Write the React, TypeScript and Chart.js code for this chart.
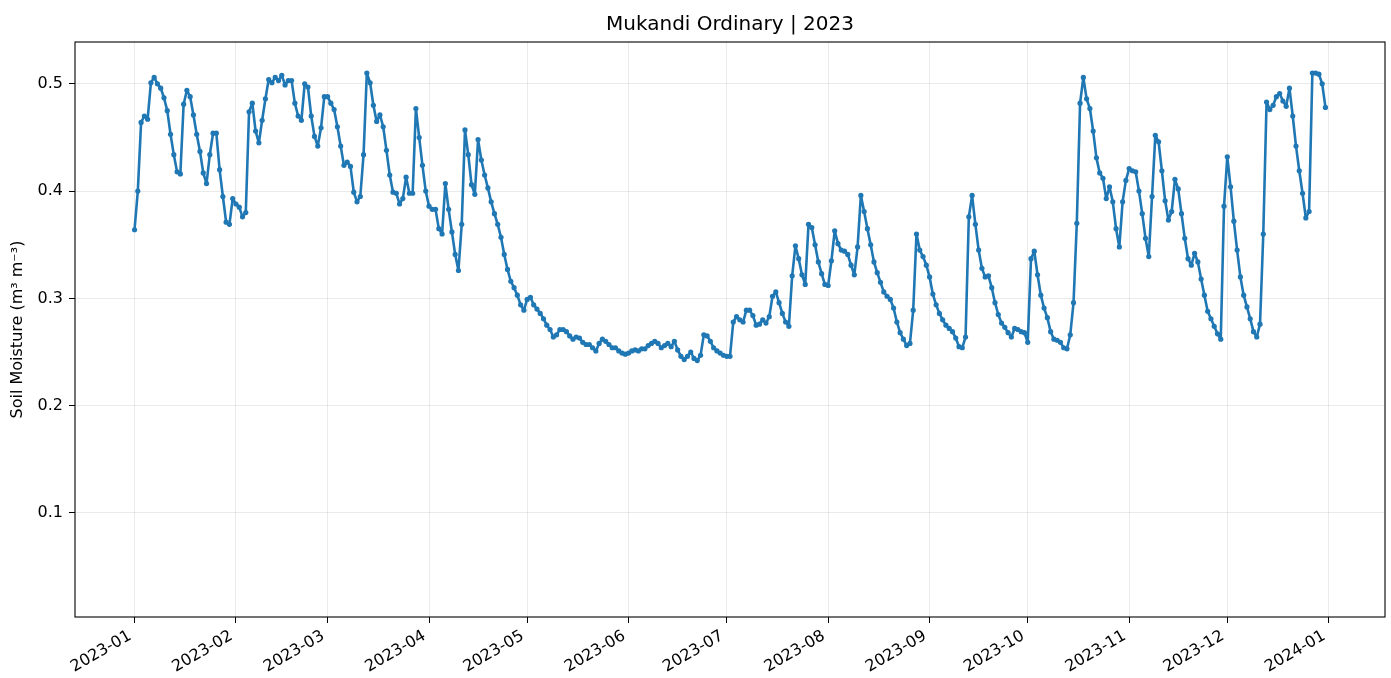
import { useEffect, useRef } from "react";
import { Chart, registerables } from "chart.js";

Chart.register(...registerables);

// Daily soil moisture (m³ m⁻³), one array per month of 2023
const jan = [0.364, 0.400, 0.464, 0.470, 0.467, 0.501, 0.506, 0.500, 0.496, 0.487, 0.475, 0.453, 0.434, 0.418, 0.416, 0.481, 0.494, 0.488, 0.471, 0.453, 0.437, 0.417, 0.407, 0.434, 0.454, 0.454, 0.420, 0.395, 0.371, 0.369, 0.393];
const feb = [0.388, 0.385, 0.376, 0.380, 0.474, 0.482, 0.456, 0.445, 0.466, 0.486, 0.504, 0.501, 0.506, 0.503, 0.508, 0.499, 0.503, 0.503, 0.482, 0.470, 0.466, 0.500, 0.497, 0.470, 0.451, 0.442, 0.459, 0.488];
const mar = [0.488, 0.482, 0.476, 0.460, 0.442, 0.424, 0.427, 0.423, 0.399, 0.390, 0.395, 0.434, 0.510, 0.501, 0.480, 0.465, 0.471, 0.460, 0.438, 0.415, 0.399, 0.398, 0.388, 0.393, 0.413, 0.398, 0.398, 0.477, 0.450, 0.424, 0.400];
const apr = [0.386, 0.383, 0.383, 0.365, 0.360, 0.407, 0.383, 0.362, 0.341, 0.326, 0.369, 0.457, 0.434, 0.406, 0.397, 0.448, 0.429, 0.415, 0.403, 0.390, 0.379, 0.369, 0.357, 0.341, 0.327, 0.316, 0.310, 0.303, 0.294, 0.289];
const may = [0.299, 0.301, 0.294, 0.290, 0.286, 0.281, 0.275, 0.271, 0.264, 0.266, 0.271, 0.271, 0.269, 0.265, 0.262, 0.264, 0.263, 0.259, 0.257, 0.257, 0.254, 0.251, 0.258, 0.262, 0.260, 0.257, 0.254, 0.254, 0.251, 0.249, 0.248];
const jun = [0.249, 0.251, 0.252, 0.251, 0.253, 0.253, 0.256, 0.258, 0.260, 0.258, 0.254, 0.256, 0.258, 0.255, 0.260, 0.252, 0.246, 0.243, 0.246, 0.250, 0.244, 0.242, 0.247, 0.266, 0.265, 0.260, 0.254, 0.251, 0.249, 0.247];
const jul = [0.246, 0.246, 0.278, 0.283, 0.280, 0.278, 0.289, 0.289, 0.284, 0.275, 0.276, 0.280, 0.277, 0.283, 0.302, 0.306, 0.296, 0.286, 0.278, 0.274, 0.321, 0.349, 0.337, 0.322, 0.313, 0.369, 0.366, 0.350, 0.334, 0.323, 0.313];
const aug = [0.312, 0.335, 0.363, 0.351, 0.345, 0.344, 0.341, 0.331, 0.322, 0.348, 0.396, 0.381, 0.365, 0.350, 0.334, 0.324, 0.315, 0.306, 0.302, 0.299, 0.291, 0.278, 0.268, 0.262, 0.256, 0.258, 0.289, 0.360, 0.345, 0.339, 0.331];
const sep = [0.320, 0.304, 0.294, 0.286, 0.280, 0.275, 0.272, 0.269, 0.263, 0.255, 0.254, 0.264, 0.376, 0.396, 0.369, 0.345, 0.328, 0.320, 0.321, 0.310, 0.296, 0.285, 0.277, 0.273, 0.268, 0.264, 0.272, 0.271, 0.269, 0.268];
const oct = [0.259, 0.337, 0.344, 0.322, 0.303, 0.291, 0.282, 0.269, 0.262, 0.261, 0.259, 0.254, 0.253, 0.266, 0.296, 0.370, 0.482, 0.506, 0.486, 0.477, 0.456, 0.431, 0.417, 0.412, 0.393, 0.404, 0.390, 0.365, 0.348, 0.390, 0.410];
const nov = [0.421, 0.419, 0.418, 0.400, 0.379, 0.356, 0.339, 0.395, 0.452, 0.446, 0.419, 0.391, 0.373, 0.381, 0.411, 0.402, 0.379, 0.356, 0.337, 0.331, 0.342, 0.334, 0.318, 0.303, 0.288, 0.281, 0.274, 0.267, 0.262, 0.386];
const dec = [0.432, 0.404, 0.372, 0.345, 0.320, 0.303, 0.292, 0.281, 0.269, 0.264, 0.276, 0.360, 0.483, 0.476, 0.480, 0.488, 0.491, 0.484, 0.479, 0.496, 0.470, 0.442, 0.419, 0.398, 0.375, 0.381, 0.510, 0.510, 0.509, 0.500, 0.478];

const monthTickLabels = ["2023-01", "2023-02", "2023-03", "2023-04", "2023-05", "2023-06", "2023-07", "2023-08", "2023-09", "2023-10", "2023-11", "2023-12", "2024-01"];
const monthTickDays = [0, 31, 59, 90, 120, 151, 181, 212, 243, 273, 304, 334, 365];
const yTickValues = [0.1, 0.2, 0.3, 0.4, 0.5];

const chartTitle = "Mukandi Ordinary | 2023";
const yAxisTitle = "Soil Moisture (m³ m⁻³)";

const soilMoisture = [...jan, ...feb, ...mar, ...apr, ...may, ...jun, ...jul, ...aug, ...sep, ...oct, ...nov, ...dec];

const FONT = "'DejaVu Sans', sans-serif";
const TICK_FONT_SIZE = 16;

export default function App() {
  const ref = useRef<HTMLCanvasElement>(null);

  useEffect(() => {
    document.body.style.margin = "0";
    const canvas = ref.current;
    if (!canvas) return;

    const framePlugin = {
      id: "frame",
      afterDraw(chart: any) {
        const { ctx, chartArea } = chart;
        ctx.save();
        ctx.strokeStyle = "#000";
        ctx.lineWidth = 1.1;
        ctx.strokeRect(chartArea.left, chartArea.top, chartArea.right - chartArea.left, chartArea.bottom - chartArea.top);
        ctx.restore();
      },
    };

    // x tick labels rotated 30° with their right end at the tick (matplotlib autofmt_xdate style)
    const xLabelPlugin = {
      id: "xLabels",
      afterDraw(chart: any) {
        const { ctx, chartArea } = chart;
        const xs = chart.scales.x;
        const h = TICK_FONT_SIZE * 1.05;
        const ang = Math.PI / 6;
        ctx.save();
        ctx.fillStyle = "#000";
        ctx.font = `${TICK_FONT_SIZE}px ${FONT}`;
        ctx.textAlign = "right";
        ctx.textBaseline = "top";
        monthTickDays.forEach((d, i) => {
          const px = xs.getPixelForValue(d);
          const topY = chartArea.bottom + 6 + 5;
          ctx.save();
          ctx.translate(px - h * Math.sin(ang), topY);
          ctx.rotate(-ang);
          ctx.fillText(monthTickLabels[i], 0, 0);
          ctx.restore();
        });
        ctx.restore();
      },
    };

    const chart = new Chart(canvas, {
      type: "line",
      data: {
        datasets: [
          {
            data: soilMoisture.map((v, i) => ({ x: i, y: v })),
            borderColor: "#1f77b4",
            backgroundColor: "#1f77b4",
            borderWidth: 2.6,
            borderJoinStyle: "round",
            borderCapStyle: "round",
            pointRadius: 2.6,
            pointBorderWidth: 0,
            pointBackgroundColor: "#1f77b4",
            tension: 0,
          },
        ],
      },
      options: {
        animation: false,
        responsive: false,
        devicePixelRatio: 1,
        layout: { padding: { left: 0, right: 6, top: 0, bottom: 0 } },
        plugins: {
          legend: { display: false },
          tooltip: { enabled: false },
          title: {
            display: true,
            text: chartTitle,
            fullSize: false,
            color: "#000",
            font: { family: FONT, size: 20, weight: "normal" },
            padding: { top: 13, bottom: 5 },
          },
        },
        scales: {
          x: {
            type: "linear",
            min: -18.2,
            max: 382.2,
            afterFit(scale: any) {
              scale.height = 61;
            },
            afterBuildTicks(scale: any) {
              scale.ticks = monthTickDays.map((d) => ({ value: d }));
            },
            ticks: {
              display: false,
              autoSkip: false,
            },
            grid: {
              color: "rgba(176,176,176,0.3)",
              lineWidth: 0.9,
              tickColor: "#000",
              tickLength: 6,
              tickWidth: 1,
            },
            border: { display: false },
          },
          y: {
            type: "linear",
            min: 0.003,
            max: 0.539,
            afterFit(scale: any) {
              scale.width = 75;
            },
            afterBuildTicks(scale: any) {
              scale.ticks = yTickValues.map((v) => ({ value: v }));
            },
            ticks: {
              padding: 6,
              color: "#000",
              font: { family: FONT, size: TICK_FONT_SIZE },
              callback: (value: any) => Number(value).toFixed(1),
            },
            grid: {
              color: "rgba(176,176,176,0.3)",
              lineWidth: 0.9,
              tickColor: "#000",
              tickLength: 6,
              tickWidth: 1,
            },
            border: { display: false },
            title: {
              display: true,
              text: yAxisTitle,
              color: "#000",
              font: { family: FONT, size: TICK_FONT_SIZE },
              padding: { top: 8, bottom: 0 },
            },
          },
        },
      },
      plugins: [framePlugin, xLabelPlugin],
    });

    return () => chart.destroy();
  }, []);

  return (
    <div style={{ width: 1391, height: 678 }}>
      <canvas ref={ref} width={1391} height={678} style={{ width: 1391, height: 678, display: "block" }} />
    </div>
  );
}
